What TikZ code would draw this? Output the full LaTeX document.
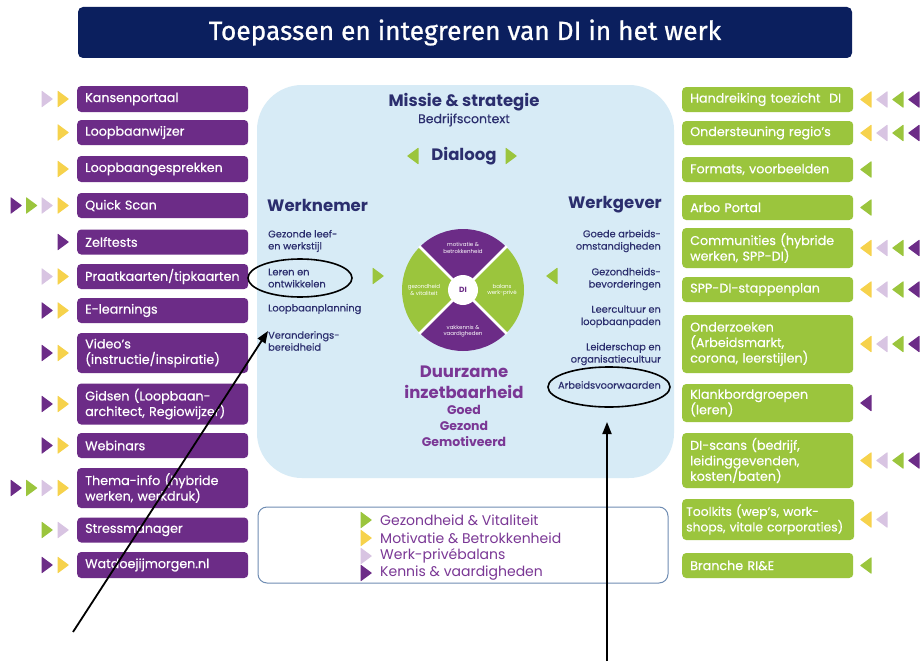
\documentclass[tikz,border=0pt]{standalone}
\usepackage{fontspec}
\setmainfont{Poppins}
\newfontfamily\titlefont{Fira Sans}[FakeBold=0.8]
\newfontfamily\boxfont{Poppins}[FakeBold=0.5]
\newfontfamily\medfont{Poppins}[FakeBold=0.3]
\usetikzlibrary{arrows.meta,shapes.geometric}
\definecolor{navy}{HTML}{0B1F5E}
\definecolor{pur}{HTML}{6C2C87}
\definecolor{grn}{HTML}{9BC53D}
\definecolor{yel}{HTML}{F6D24C}
\definecolor{lil}{HTML}{D8C4E2}
\definecolor{lblue}{HTML}{D7EBF6}
\definecolor{txt}{HTML}{2B2E6E}
\definecolor{dipur}{HTML}{7A3795}
\definecolor{legbd}{HTML}{6F8DB3}
\newcommand\tR[3]{\fill[#1,rounded corners=0.6pt] (#2-5.5,#3-8.5) -- (#2+6,#3) -- (#2-5.5,#3+8.5) -- cycle;}
\newcommand\tL[3]{\fill[#1,rounded corners=0.6pt] (#2+5.5,#3-8.5) -- (#2-6,#3) -- (#2+5.5,#3+8.5) -- cycle;}
\tikzset{
  lbox/.style={fill=pur, rounded corners=4pt, text=white, minimum width=171pt, text width=155pt,
    inner xsep=8pt, inner ysep=1pt, align=left, anchor=west,
    font=\boxfont\fontsize{12.7}{15.5}\selectfont},
  rbox/.style={lbox, fill=grn},
  litem/.style={anchor=west, inner sep=0pt, align=left, text=txt, font=\medfont\fontsize{9.8}{12}\selectfont},
  ritem/.style={anchor=east, inner sep=0pt, align=right, text=txt, font=\medfont\fontsize{9.8}{12.3}\selectfont},
  head/.style={inner sep=0pt, text=txt, font=\fontsize{16.5}{19}\selectfont\bfseries},
  duur/.style={inner sep=0pt, text=dipur, align=center},
  legtxt/.style={anchor=west, inner sep=0pt, text=dipur, font=\fontsize{14}{16}\selectfont},
  wtxt/.style={inner sep=0pt, text=white, align=center, font=\fontsize{5.5}{6.5}\selectfont},
  callout/.style={draw=black, line width=1.6pt},
  pointer/.style={draw=black, line width=1.8pt, -{Triangle[length=12pt,width=9pt]}}
}
\begin{document}
\begin{tikzpicture}[x=1pt,y=-1pt]
\useasboundingbox (0,0) rectangle (923,661);
\fill[white] (0,0) rectangle (923,661);
% title
\node[fill=navy, rounded corners=5pt, minimum width=774pt, minimum height=51pt, inner sep=0pt,
  text=white, font=\titlefont\fontsize{26.3}{28}\selectfont] (title) at (465,32.5) {Toepassen en integreren van DI in het werk};
% central panel
\fill[lblue, rounded corners=45pt] (257,85) rectangle (674,478);
% legend box
\node[draw=legbd, line width=1pt, fill=white, rounded corners=9pt, minimum width=410pt, minimum height=76pt] (legend) at (463,545) {};
% left boxes
\node[lbox, minimum height=26pt] (l1) at (77,99) {Kansenportaal};
\node[lbox, minimum height=25pt] (l2) at (77,132.5) {Loopbaanwijzer};
\node[lbox, minimum height=26pt] (l3) at (77,169) {Loopbaangesprekken};
\node[lbox, minimum height=25pt] (l4) at (77,205.5) {Quick Scan};
\node[lbox, minimum height=25pt] (l5) at (77,242) {Zelftests};
\node[lbox, minimum height=25pt] (l6) at (77,276.5) {Praatkaarten/tipkaarten};
\node[lbox, minimum height=25pt] (l7) at (77,310.5) {E-learnings};
\node[lbox, minimum height=40pt] (l8) at (77,353) {Video’s\\(instructie/inspiratie)};
\node[lbox, minimum height=41pt] (l9) at (77,404) {Gidsen (Loopbaan-\\architect, Regiowijzer)};
\node[lbox, minimum height=25pt] (l10) at (77,445.5) {Webinars};
\node[lbox, minimum height=40pt] (l11) at (77,488) {Thema-info (hybride\\werken, werkdruk)};
\node[lbox, minimum height=25pt] (l12) at (77,530) {Stressmanager};
\node[lbox, minimum height=26pt] (l13) at (77,565) {Watdoejijmorgen.nl};
% right boxes
\node[rbox, minimum height=25pt] (r1) at (682,99.5) {Handreiking toezicht~ DI};
\node[rbox, minimum height=24pt] (r2) at (682,133) {Ondersteuning regio’s};
\node[rbox, minimum height=25pt] (r3) at (682,169.5) {Formats, voorbeelden};
\node[rbox, minimum height=25pt] (r4) at (682,207.5) {Arbo Portal};
\node[rbox, minimum height=40pt] (r5) at (682,248) {Communities (hybride\\werken, SPP-DI)};
\node[rbox, minimum height=25pt] (r6) at (682,289.5) {SPP-DI-stappenplan};
\node[rbox, minimum height=58pt] (r7) at (682,344) {Onderzoeken\\(Arbeidsmarkt,\\corona, leerstijlen)};
\node[rbox, minimum height=38pt] (r8) at (682,403) {Klankbordgroepen\\(leren)};
\node[rbox, minimum height=55pt] (r9) at (682,460.5) {DI-scans (bedrijf,\\leidinggevenden,\\kosten/baten)};
\node[rbox, minimum height=41pt, inner xsep=4pt, text width=164pt, font=\boxfont\fontsize{12.3}{15.5}\selectfont] (r10) at (682,519.5) {\mbox{Toolkits (wep’s, work-}\\\mbox{shops, vitale corporaties)}};
\node[rbox, minimum height=25pt] (r11) at (682,565.5) {Branche RI\&E};
% left markers (columns 16, 31.5, 47, 63)
\tR{lil}{47}{99} \tR{yel}{63}{99}
\tR{yel}{63}{132.5}
\tR{yel}{63}{169}
\tR{pur}{16}{205.5} \tR{grn}{31.5}{205.5} \tR{lil}{47}{205.5} \tR{yel}{63}{205.5}
\tR{pur}{63}{242}
\tR{lil}{47}{276.5} \tR{yel}{63}{276.5}
\tR{pur}{47}{310.5} \tR{yel}{63}{310.5}
\tR{pur}{47}{353} \tR{yel}{63}{353}
\tR{pur}{47}{404} \tR{yel}{63}{404}
\tR{pur}{47}{445.5} \tR{yel}{63}{445.5}
\tR{pur}{16}{488} \tR{grn}{31.5}{488} \tR{lil}{47}{488} \tR{yel}{63}{488}
\tR{grn}{47}{530} \tR{lil}{63}{530}
\tR{pur}{47}{565} \tR{yel}{63}{565}
% right markers (columns 866, 882, 898, 914)
\tL{yel}{866}{99.5} \tL{lil}{882}{99.5} \tL{grn}{898}{99.5} \tL{pur}{914}{99.5}
\tL{yel}{866}{133} \tL{lil}{882}{133} \tL{grn}{898}{133} \tL{pur}{914}{133}
\tL{grn}{866}{169.5}
\tL{grn}{866}{207.5}
\tL{yel}{866}{248} \tL{lil}{882}{248} \tL{grn}{898}{248} \tL{pur}{914}{248}
\tL{yel}{866}{289.5} \tL{lil}{882}{289.5} \tL{grn}{898}{289.5} \tL{pur}{914}{289.5}
\tL{yel}{866}{344} \tL{lil}{882}{344} \tL{grn}{898}{344} \tL{pur}{914}{344}
\tL{pur}{866}{403}
\tL{yel}{866}{460.5} \tL{lil}{882}{460.5} \tL{grn}{898}{460.5} \tL{pur}{914}{460.5}
\tL{yel}{866}{519.5} \tL{lil}{882}{519.5}
\tL{grn}{866}{565.5}
% center texts
\node[inner sep=0pt, text=txt, font=\fontsize{16.5}{19}\selectfont\bfseries] (missie) at (464,102) {Missie \& strategie};
\node[inner sep=0pt, text=txt, font=\medfont\fontsize{12.5}{14}\selectfont] (bedrijf) at (464,120) {Bedrijfscontext};
\node[head] (dialoog) at (464,156) {Dialoog};
\tL{grn}{413}{156} \tR{grn}{511}{156}
\node[head, anchor=west] (wn) at (267,205) {Werknemer};
\node[head, anchor=east] (wg) at (662,205) {Werkgever};
\node[litem] (li1) at (268,241) {Gezonde leef-\\en werkstijl};
\node[litem] (li2) at (268,278) {Leren en\\ontwikkelen};
\node[litem] (li3) at (268,309) {Loopbaanplanning};
\node[litem] (li4) at (268,341) {Veranderings-\\bereidheid};
\node[ritem] (ri1) at (661,241) {Goede arbeids-\\omstandigheden};
\node[ritem] (ri2) at (661,279) {Gezondheids-\\bevorderingen};
\node[ritem] (ri3) at (661,316.5) {Leercultuur en\\loopbaanpaden};
\node[ritem] (ri4) at (661,354) {Leiderschap en\\organisatiecultuur};
\node[ritem] (ri5) at (661,385) {Arbeidsvoorwaarden};
\tR{grn}{378}{276} \tL{grn}{552}{276}
% wheel
\begin{scope}[shift={(463,290)}, y=1pt]
  \fill[pur] (0,0) -- (45:61) arc (45:135:61) -- cycle;
  \fill[pur] (0,0) -- (225:61) arc (225:315:61) -- cycle;
  \fill[grn] (0,0) -- (135:61) arc (135:225:61) -- cycle;
  \fill[grn] (0,0) -- (-45:61) arc (-45:45:61) -- cycle;
  \draw[white, line width=2.5pt] (45:62) -- (225:62) (135:62) -- (315:62);
  \node[circle, fill=white, minimum size=30pt, inner sep=0pt, text=pur, font=\fontsize{7.5}{8}\selectfont\bfseries] (di) at (0,0) {DI};
  \node[wtxt] (s1) at (0,42) {motivatie \&\\betrokkenheid};
  \node[wtxt] (s2) at (0,-41) {vakkennis \&\\vaardigheden};
  \node[wtxt] (s3) at (-39,0) {gezondheid\\\& vitaliteit};
  \node[wtxt] (s4) at (39,0) {balans\\werk-privé};
\end{scope}
\node[duur, font=\fontsize{16.5}{20}\selectfont\bfseries] (du1) at (464,372) {Duurzame};
\node[duur, font=\fontsize{16.5}{20}\selectfont\bfseries] (du2) at (464,392) {inzetbaarheid};
\node[duur, font=\fontsize{12.5}{16}\selectfont\bfseries] (du3) at (464,426) {Goed\\Gezond\\Gemotiveerd};
% legend
\tR{grn}{366}{520} \node[legtxt] (lg1) at (380,520) {Gezondheid \& Vitaliteit};
\tR{yel}{366}{538} \node[legtxt] (lg2) at (380,538) {Motivatie \& Betrokkenheid};
\tR{lil}{366}{556} \node[legtxt] (lg3) at (380,556) {Werk-privébalans};
\tR{pur}{366}{573} \node[legtxt] (lg4) at (380,573) {Kennis \& vaardigheden};
% callouts
\node[callout, ellipse, minimum width=104pt, minimum height=38pt, inner sep=0pt] (e1) at (300,278) {};
\node[callout, ellipse, minimum width=122pt, minimum height=40pt, inner sep=0pt] (e2) at (609,387) {};
\coordinate (p1s) at (73,632);
\coordinate (p1e) at (268,331);
\coordinate (p2s) at (607,661);
\coordinate (p2e) at (607,422);
\draw[pointer] (p1s) -- (p1e);
\draw[pointer] (p2s) -- (p2e);
\end{tikzpicture}
\end{document}
